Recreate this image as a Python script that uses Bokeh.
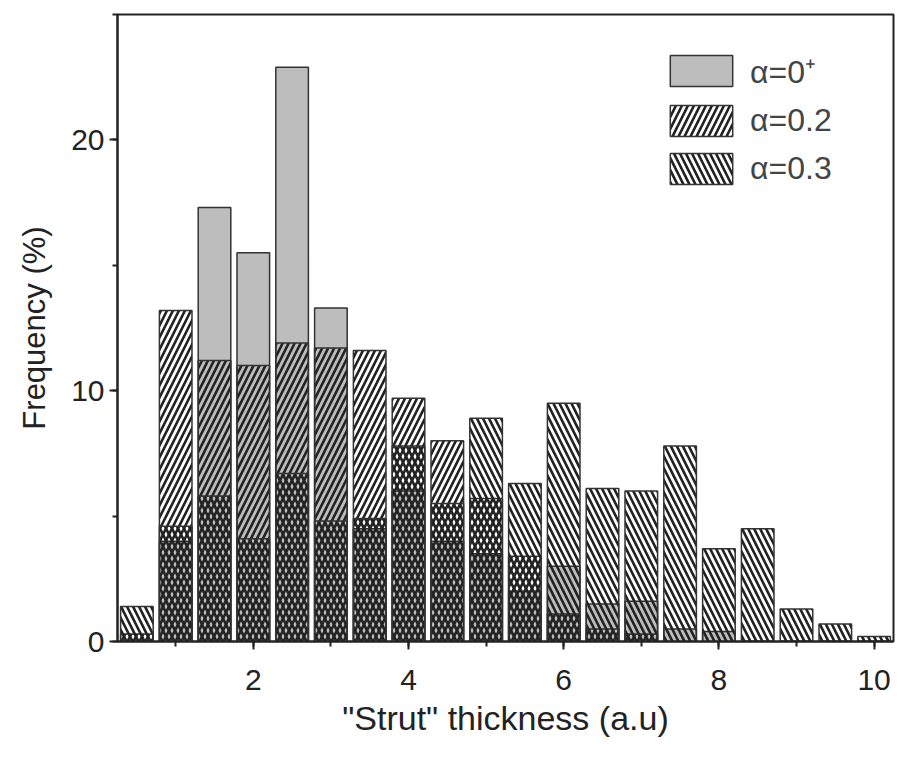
from bokeh.plotting import figure
from bokeh.models import Range1d, SingleIntervalTicker, Legend
from bokeh.embed import file_html
from bokeh.resources import INLINE

# bin centres of the histogram ("Strut" thickness, a.u.)
bins = [0.5, 1.0, 1.5, 2.0, 2.5, 3.0, 3.5, 4.0, 4.5, 5.0,
        5.5, 6.0, 6.5, 7.0, 7.5, 8.0, 8.5, 9.0, 9.5, 10.0]

# Frequency (%) per series
freq_a0 = [0.0, 4.0, 17.3, 15.5, 22.9, 13.3, 4.5, 6.0, 4.0, 3.5,
           2.0, 3.0, 1.5, 1.6, 0.5, 0.4, 0.0, 0.0, 0.0, 0.0]
freq_a02 = [0.3, 13.2, 11.2, 11.0, 11.9, 11.7, 11.6, 9.7, 8.0, 5.7,
            3.4, 1.1, 0.5, 0.3, 0.0, 0.0, 0.0, 0.0, 0.0, 0.0]
freq_a03 = [1.4, 4.6, 5.8, 4.1, 6.7, 4.8, 4.9, 7.8, 5.5, 8.9,
            6.3, 9.5, 6.1, 6.0, 7.8, 3.7, 4.5, 1.3, 0.7, 0.2]

labels = ["α=0⁺", "α=0.2", "α=0.3"]
x_ticks_interval = 2
y_ticks_interval = 10

FONT = "Liberation Sans"

p = figure(width=900, height=758, x_range=Range1d(0.25, 10.25), y_range=Range1d(0, 25),
           output_backend="svg", toolbar_location=None,
           min_border_left=117, min_border_right=7, min_border_top=14, min_border_bottom=117)
p.background_fill_color = "white"
p.border_fill_color = "white"
p.xgrid.visible = False
p.ygrid.visible = False
p.outline_line_color = "#222222"
p.outline_line_width = 2

bw = 0.42
r0 = p.vbar(x=bins, top=freq_a0, width=bw, bottom=0, fill_color="#bdbdbd",
            line_color="#333333", line_width=1.5)
r1 = p.vbar(x=bins, top=freq_a02, width=bw, bottom=0, fill_color="white", fill_alpha=0,
            hatch_pattern="/", hatch_color="#222222", hatch_scale=12, hatch_weight=2.6,
            line_color="#333333", line_width=1.5)
r2 = p.vbar(x=bins, top=freq_a03, width=bw, bottom=0, fill_color="white", fill_alpha=0,
            hatch_pattern="\\", hatch_color="#222222", hatch_scale=12, hatch_weight=2.6,
            line_color="#333333", line_width=1.5)

legend = Legend(items=[(labels[0], [r0]), (labels[1], [r1]), (labels[2], [r2])],
                location=(545, 453), padding=0, spacing=9, margin=0,
                glyph_width=78, glyph_height=39, label_height=39, label_standoff=10,
                label_text_font=FONT, label_text_font_size="32px",
                border_line_color=None, background_fill_alpha=0)
p.add_layout(legend, "center")

for ax in (p.xaxis[0], p.yaxis[0]):
    ax.axis_line_width = 2
    ax.axis_line_color = "#222222"
    ax.major_tick_line_width = 2
    ax.major_tick_line_color = "#222222"
    ax.minor_tick_line_width = 2
    ax.minor_tick_line_color = "#222222"
    ax.major_tick_in = 0
    ax.major_tick_out = 8
    ax.minor_tick_in = 0
    ax.minor_tick_out = 5
    ax.major_label_text_font = FONT
    ax.major_label_text_font_size = "30px"
    ax.major_label_text_color = "#222222"
    ax.axis_label_text_font = FONT
    ax.axis_label_text_font_style = "normal"
    ax.axis_label_text_color = "#222222"

p.xaxis.axis_label_text_font_size = "34px"
p.yaxis.axis_label_text_font_size = "31px"
p.xaxis.ticker = SingleIntervalTicker(interval=x_ticks_interval, num_minor_ticks=2)
p.yaxis.ticker = SingleIntervalTicker(interval=y_ticks_interval, num_minor_ticks=2)
p.xaxis.axis_label = '"Strut" thickness (a.u)'
p.yaxis.axis_label = "Frequency (%)"
p.xaxis.major_label_standoff = 20
p.xaxis.axis_label_standoff = 6
p.yaxis.major_label_standoff = 5
p.yaxis.axis_label_standoff = 16

open("out.html", "w").write(file_html(p, INLINE))
